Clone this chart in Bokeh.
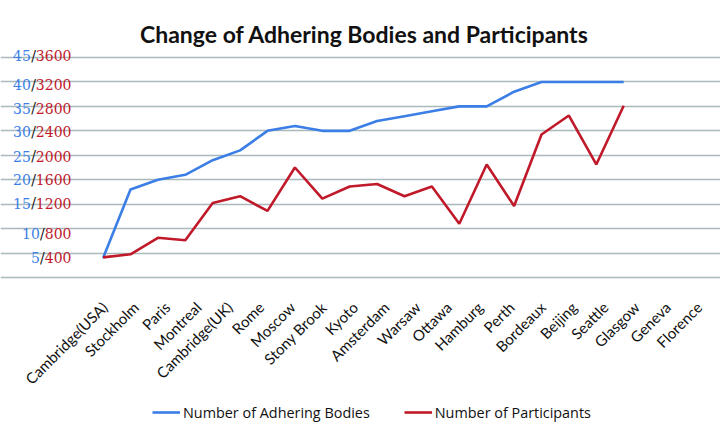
import math
from bokeh.plotting import figure
from bokeh.models import Range1d, FixedTicker, Grid, Label, Legend, LegendItem
from bokeh.core.properties import value
from bokeh.embed import file_html
from bokeh.resources import INLINE

# ---------------- data ----------------
cities = ["Cambridge(USA)", "Stockholm", "Paris", "Montreal", "Cambridge(UK)", "Rome",
          "Moscow", "Stony Brook", "Kyoto", "Amsterdam", "Warsaw", "Ottawa", "Hamburg",
          "Perth", "Bordeaux", "Beijing", "Seattle", "Glasgow", "Geneva", "Florence"]
adhering_bodies = [4, 18, 20, 21, 24, 26, 30, 31, 30, 30, 32, 33, 34, 35, 35, 38, 40, 40, 40, 40]
participants = [330, 380, 650, 610, 1220, 1330, 1090, 1800, 1290, 1490, 1530, 1330, 1490,
                880, 1850, 1170, 2340, 2650, 1850, 2810]
bodies_ticks = [5, 10, 15, 20, 25, 30, 35, 40, 45]
participant_ticks = [400, 800, 1200, 1600, 2000, 2400, 2800, 3200, 3600]
grid_ticks = [0, 5, 10, 15, 20, 25, 30, 35, 40, 45]
ratio = 80  # participants per adhering-body unit on the shared scale

# ---------------- style / layout ----------------
BLUE = "#3a7ee6"
RED = "#c0192a"
GRID = "#a9b9bc"
INK = "#111111"

W, H = 720, 430
X_STEP = 27.4      # px between points
X0_PX = 102.6      # px of first point
Y0_PX = 277.0      # px of value 0
PXU = 220.0 / 45   # px per body unit

x_start = -X0_PX / X_STEP
x_end = x_start + W / X_STEP
y_end = Y0_PX / PXU
y_start = -(H - Y0_PX) / PXU


def px_x(sx):
    return x_start + sx / X_STEP


def px_y(sy):
    return (Y0_PX - sy) / PXU


p = figure(width=W, height=H, output_backend="svg", toolbar_location=None,
           x_range=Range1d(x_start, x_end), y_range=Range1d(y_start, y_end),
           x_axis_location=None, y_axis_location=None, min_border=0)
p.outline_line_color = None
p.background_fill_color = "white"
p.border_fill_color = "white"
p.grid.visible = False
p.extra_y_ranges = {"p": Range1d(y_start * ratio, y_end * ratio)}

grid = Grid(dimension=1, ticker=FixedTicker(ticks=grid_ticks),
            bounds=(px_x(84), px_x(713)),
            grid_line_color=GRID, grid_line_width=1.6)
p.add_layout(grid)

xs = list(range(len(cities)))
r1 = p.line(xs, adhering_bodies, line_color=BLUE, line_width=2.6)
r2 = p.line(xs, participants, y_range_name="p", line_color=RED, line_width=2.6)

# category labels (rotated 45 degrees)
LAB_X0, LAB_STEP, LAB_Y = 104.0, 31.3, 304.0
p.text(x=[px_x(LAB_X0 + LAB_STEP * i) for i in xs], y=[px_y(LAB_Y)] * len(xs),
       text=cities, angle=math.pi / 4, text_align="right", text_baseline="middle",
       text_font=value("Lato"), text_font_size=value("15px"), text_color=INK)

# y tick labels: blue / black slash / red
dw, slash_w, right_px = 8.9, 5.0, 71.0
label_dy = {45: -2, 40: 3, 35: 2, 30: 1, 25: 1, 20: 0, 15: -1, 10: 5, 5: 4.5}
red_x, red_y, red_t = [], [], []
sl_x, bl_x, bl_t = [], [], []
for bv, pv in zip(bodies_ticks, participant_ticks):
    rs, bs = str(pv), str(bv)
    red_x.append(px_x(right_px))
    red_y.append(bv - label_dy[bv] / PXU)
    red_t.append(rs)
    sl_x.append(px_x(right_px - dw * len(rs)))
    bl_x.append(px_x(right_px - dw * len(rs) - slash_w))
    bl_t.append(bs)
common = dict(text_align="right", text_baseline="middle",
              text_font=value("DejaVu Serif"), text_font_size=value("14px"))
p.text(x=red_x, y=red_y, text=red_t, text_color=RED, **common)
p.text(x=sl_x, y=red_y, text=["/"] * len(red_t), text_color=INK, **common)
p.text(x=bl_x, y=red_y, text=bl_t, text_color=BLUE, **common)

# title
p.add_layout(Label(x=px_x(364), y=px_y(33),
                   text="Change of Adhering Bodies and Participants",
                   text_align="center", text_baseline="alphabetic",
                   text_font="Lato", text_font_style="bold", text_font_size="23px",
                   text_color=INK))

legend = Legend(items=[LegendItem(label="Number of Adhering Bodies", renderers=[r1]),
                       LegendItem(label="Number of Participants", renderers=[r2])],
                location=(152, H - 422), orientation="horizontal")
legend.border_line_color = None
legend.background_fill_alpha = 0
legend.padding = 0
legend.margin = 0
legend.spacing = 34
legend.glyph_width = 28
legend.label_standoff = 3
legend.label_text_font = "Open Sans"
legend.label_text_font_size = "14.4px"
legend.label_text_color = INK
p.add_layout(legend)

open("out.html", "w").write(file_html(p, INLINE))
